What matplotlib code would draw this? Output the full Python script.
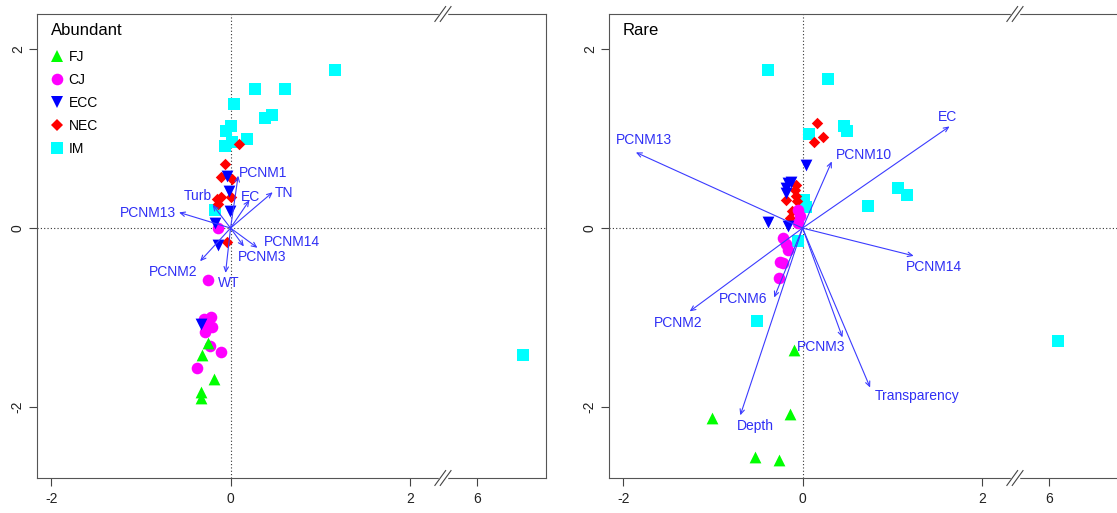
import numpy as np
import matplotlib
matplotlib.use("Agg")
import matplotlib.pyplot as plt
from matplotlib.lines import Line2D

plt.rcParams['font.family'] = ['Liberation Sans', 'DejaVu Sans']

# x axis is broken between 2 and 6: values past the break are shifted left
BREAK_SHIFT = 3.25
BREAK_AT = 2.37

groups = ['FJ', 'CJ', 'ECC', 'NEC', 'IM']
group_colors = {'FJ': '#00FF00', 'CJ': '#FF00FF', 'ECC': '#0000FF', 'NEC': '#FF0000', 'IM': '#00FFFF'}
group_markers = {'FJ': '^', 'CJ': 'o', 'ECC': 'v', 'NEC': 'D', 'IM': 's'}
group_sizes = {'FJ': 72, 'CJ': 70, 'ECC': 72, 'NEC': 34, 'IM': 70}
draw_order = ['IM', 'NEC', 'CJ', 'ECC', 'FJ']

ARROW_COL = '#3B3BFF'
LABEL_COL = '#2F2FF5'

# ---- Abundant: site scores ----
ab_fj_x = [-0.25, -0.315, -0.18, -0.33, -0.33]
ab_fj_y = [-1.285, -1.42, -1.68, -1.83, -1.90]
ab_cj_x = [-0.14, -0.25, -0.30, -0.22, -0.204, -0.28, -0.28, -0.23, -0.11, -0.37]
ab_cj_y = [0.0, -0.585, -1.02, -0.99, -1.10, -1.155, -1.06, -1.32, -1.38, -1.56]
ab_ecc_x = [-0.045, -0.02, -0.008, -0.17, -0.14, -0.33]
ab_ecc_y = [0.58, 0.41, 0.19, 0.06, -0.19, -1.07]
ab_nec_x = [0.097, -0.064, -0.11, 0.02, 0.008, -0.11, -0.156, -0.14, -0.037]
ab_nec_y = [0.94, 0.72, 0.57, 0.55, 0.35, 0.35, 0.32, 0.27, -0.15]
ab_im_x = [1.16, 0.275, 0.613, 0.037, 0.38, 0.465, 0.007, -0.056, 0.186, -0.064, 0.02, -0.17, 6.51]
ab_im_y = [1.77, 1.55, 1.55, 1.385, 1.23, 1.26, 1.14, 1.08, 1.00, 0.92, 0.96, 0.197, -1.416]

# ---- Abundant: environmental vectors ----
ab_env = ['PCNM1', 'TN', 'EC', 'Turb', 'PCNM13', 'PCNM14', 'PCNM3', 'PCNM2', 'WT']
ab_env_x = [0.085, 0.47, 0.21, -0.2, -0.575, 0.30, 0.148, -0.34, -0.056]
ab_env_y = [0.585, 0.40, 0.31, 0.26, 0.175, -0.22, -0.205, -0.37, -0.50]
ab_lab_x = [0.36, 0.6, 0.22, -0.37, -0.92, 0.69, 0.35, -0.64, -0.025]
ab_lab_y = [0.615, 0.39, 0.35, 0.36, 0.168, -0.15, -0.324, -0.485, -0.615]

# ---- Rare: site scores ----
ra_fj_x = [-0.09, -1.01, -0.143, -0.53, -0.26]
ra_fj_y = [-1.36, -2.116, -2.08, -2.56, -2.59]
ra_cj_x = [-0.05, -0.03, -0.05, -0.217, -0.187, -0.16, -0.254, -0.223, -0.26]
ra_cj_y = [0.205, 0.13, 0.056, -0.11, -0.175, -0.24, -0.384, -0.39, -0.56]
ra_ecc_x = [0.033, -0.134, -0.16, -0.18, -0.187, -0.385, -0.16]
ra_ecc_y = [0.707, 0.52, 0.50, 0.447, 0.39, 0.063, 0.026]
ra_nec_x = [0.163, 0.227, 0.13, -0.075, -0.086, -0.075, -0.187, -0.123, -0.14, -0.06]
ra_nec_y = [1.17, 1.017, 0.96, 0.484, 0.43, 0.353, 0.316, 0.186, 0.11, 0.30]
ra_im_x = [-0.39, 0.286, 0.465, 0.50, 0.076, 1.07, 1.17, 0.735, 0.02, 0.036, -0.053, -0.51, 6.1]
ra_im_y = [1.76, 1.66, 1.135, 1.08, 1.054, 0.447, 0.372, 0.25, 0.316, 0.235, -0.14, -1.036, -1.256]

# ---- Rare: environmental vectors ----
ra_env = ['PCNM13', 'EC', 'PCNM10', 'PCNM14', 'PCNM6', 'PCNM2', 'PCNM3', 'Transparency', 'Depth']
ra_env_x = [-1.86, 1.64, 0.326, 1.24, -0.317, -1.26, 0.445, 0.754, -0.695]
ra_env_y = [0.845, 1.135, 0.744, -0.31, -0.775, -0.93, -1.22, -1.78, -2.09]
ra_lab_x = [-1.77, 1.62, 0.68, 1.47, -0.66, -1.39, 0.21, 1.28, -0.53]
ra_lab_y = [0.98, 1.24, 0.82, -0.436, -0.79, -1.06, -1.33, -1.88, -2.21]


def brk(x):
    x = np.asarray(x, dtype=float)
    return np.where(x > 4, x - BREAK_SHIFT, x)


def draw_panel(ax, title, sites, env, ex, ey, lx, ly, legend=False):
    ax.set_xlim(-2.16, 3.52)
    ax.set_ylim(-2.79, 2.39)
    ax.axhline(0, color='#333333', lw=0.8, ls=(0, (1, 2)), zorder=1)
    ax.axvline(0, color='#333333', lw=0.8, ls=(0, (1, 2)), zorder=1)

    for g in draw_order:
        x, y = sites[g]
        ax.scatter(brk(x), y, marker=group_markers[g], s=group_sizes[g],
                   c=group_colors[g], linewidths=0, zorder=3)

    # biplot arrows from the origin
    for name, tx, ty, tlx, tly in zip(env, ex, ey, lx, ly):
        ax.annotate('', xy=(tx, ty), xytext=(0, 0),
                    arrowprops=dict(arrowstyle='->,head_length=0.35,head_width=0.16',
                                    color=ARROW_COL, lw=0.8, shrinkA=0, shrinkB=0),
                    zorder=4)
        ax.text(tlx, tly, name, color=LABEL_COL, fontsize=10,
                ha='center', va='center', zorder=5)

    ax.set_xticks([-2, 0, 2, 6 - BREAK_SHIFT])
    ax.set_xticklabels(['-2', '0', '2', '6'])
    ax.set_yticks([-2, 0, 2])
    ax.set_yticklabels(['-2', '0', '2'], rotation=90, va='center')
    ax.tick_params(direction='out', length=5.8, width=0.8, color='#444444',
                   labelsize=10, labelcolor='#222222')
    ax.tick_params(axis='x', pad=4)
    ax.tick_params(axis='y', pad=3)
    for sp in ax.spines.values():
        sp.set_color('#555555')
        sp.set_linewidth(0.8)

    # axis break marks on the top and bottom frame
    tr = ax.get_xaxis_transform()
    for yy in (0, 1):
        ax.plot([BREAK_AT - 0.03, BREAK_AT + 0.03], [yy, yy], color='white',
                lw=2.5, transform=tr, clip_on=False, zorder=10)
        for c in (BREAK_AT - 0.03, BREAK_AT + 0.03):
            ax.plot([c - 0.06, c + 0.06], [yy - 0.016, yy + 0.016], color='#444444',
                    lw=0.8, transform=tr, clip_on=False, zorder=11)

    ax.text(0.027, 0.9655, title, transform=ax.transAxes, fontsize=12,
            ha='left', va='center', color='black')

    if legend:
        handles = [Line2D([], [], marker=group_markers[g], color=group_colors[g],
                          linestyle='none', markersize=np.sqrt(group_sizes[g]),
                          markeredgewidth=0) for g in groups]
        ax.legend(handles, groups, loc='upper left', bbox_to_anchor=(0.0255, 0.922),
                  frameon=False, borderpad=0, borderaxespad=0, handlelength=1.0,
                  handletextpad=0.35, labelspacing=0.65, fontsize=10)


fig = plt.figure(figsize=(11.17, 5.13), dpi=100)
ax1 = fig.add_axes([37 / 1117, 35 / 513, 509 / 1117, 464 / 513])
ax2 = fig.add_axes([609 / 1117, 35 / 513, 509 / 1117, 464 / 513])

ab_sites = {'FJ': (ab_fj_x, ab_fj_y), 'CJ': (ab_cj_x, ab_cj_y), 'ECC': (ab_ecc_x, ab_ecc_y),
            'NEC': (ab_nec_x, ab_nec_y), 'IM': (ab_im_x, ab_im_y)}
ra_sites = {'FJ': (ra_fj_x, ra_fj_y), 'CJ': (ra_cj_x, ra_cj_y), 'ECC': (ra_ecc_x, ra_ecc_y),
            'NEC': (ra_nec_x, ra_nec_y), 'IM': (ra_im_x, ra_im_y)}

draw_panel(ax1, 'Abundant', ab_sites, ab_env, ab_env_x, ab_env_y, ab_lab_x, ab_lab_y, legend=True)
draw_panel(ax2, 'Rare', ra_sites, ra_env, ra_env_x, ra_env_y, ra_lab_x, ra_lab_y)

fig.savefig('out.png', dpi=100)
